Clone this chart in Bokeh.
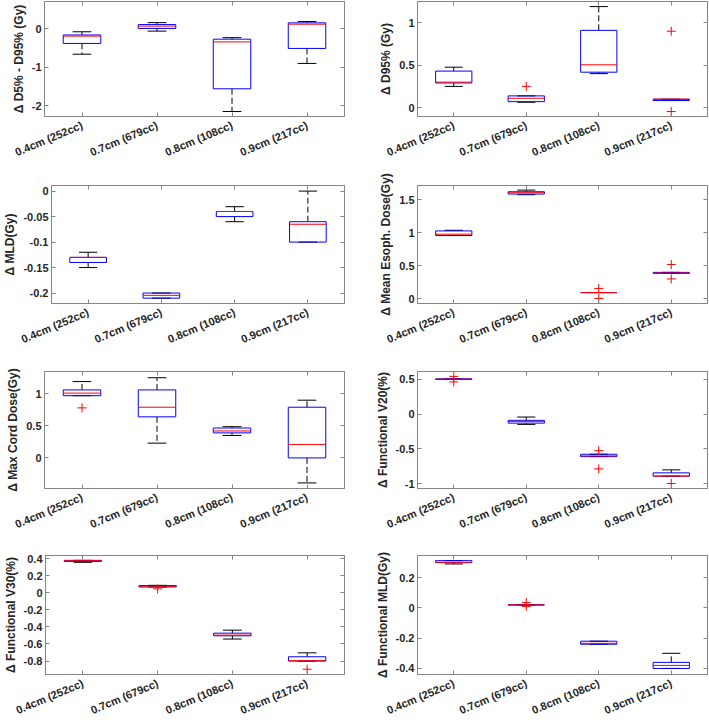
from bokeh.plotting import figure
from bokeh.layouts import column, row
from bokeh.models import Range1d, FixedTicker, LinearAxis, CustomJSTickFormatter, ColumnDataSource
from bokeh.embed import file_html
from bokeh.resources import INLINE

categories = ["0.4cm (252cc)", "0.7cm (679cc)", "0.8cm (108cc)", "0.9cm (217cc)"]

# box statistics per category: lower whisker, q1, median, q3, upper whisker, outliers
d5_d95 = dict(lo=[-0.66, -0.06, -2.15, -0.90], q1=[-0.38, 0.01, -1.56, -0.51],
              med=[-0.19, 0.07, -0.34, 0.12], q3=[-0.16, 0.11, -0.27, 0.155],
              hi=[-0.077, 0.16, -0.23, 0.19], out=[[], [], [], []])
d95 = dict(lo=[0.25, 0.063, 0.40, 0.083], q1=[0.29, 0.07, 0.417, 0.083],
           med=[0.30, 0.11, 0.504, 0.10], q3=[0.43, 0.138, 0.91, 0.098],
           hi=[0.476, 0.138, 1.19, 0.098], out=[[], [0.25], [], [0.90, -0.047]])
mld = dict(lo=[-0.15, -0.21, -0.06, -0.10], q1=[-0.14, -0.21, -0.05, -0.10],
           med=[-0.13, -0.2045, -0.04, -0.065], q3=[-0.13, -0.20, -0.04, -0.06],
           hi=[-0.12, -0.20, -0.0306, 0.0], out=[[], [], [], []])
mean_esoph = dict(lo=[0.96, 1.58, 0.093, 0.385], q1=[0.96, 1.59, 0.093, 0.385],
                  med=[0.98, 1.61, 0.093, 0.39], q3=[1.03, 1.625, 0.093, 0.40],
                  hi=[1.04, 1.65, 0.093, 0.40], out=[[], [], [0.156, 0.005], [0.52, 0.30]])
max_cord = dict(lo=[0.97, 0.23, 0.35, -0.39], q1=[0.97, 0.64, 0.39, 0.0],
                med=[1.01, 0.79, 0.42, 0.21], q3=[1.06, 1.06, 0.466, 0.79],
                hi=[1.19, 1.25, 0.487, 0.90], out=[[0.78], [], [], []])
func_v20 = dict(lo=[0.495, -0.148, -0.61, -0.89], q1=[0.495, -0.13, -0.61, -0.89],
                med=[0.50, -0.105, -0.60, -0.89], q3=[0.505, -0.09, -0.576, -0.843],
                hi=[0.505, -0.043, -0.576, -0.80], out=[[0.54, 0.46], [], [-0.524, -0.786], [-0.995]])
func_v30 = dict(lo=[0.358, 0.069, -0.542, -0.80], q1=[0.369, 0.069, -0.504, -0.80],
                med=[0.377, 0.077, -0.496, -0.796], q3=[0.381, 0.085, -0.473, -0.75],
                hi=[0.381, 0.088, -0.438, -0.704], out=[[], [0.046], [], [-0.896]])
func_mld = dict(lo=[0.29, 0.02, -0.24, -0.40], q1=[0.299, 0.02, -0.24, -0.40],
                med=[0.301, 0.02, -0.234, -0.38], q3=[0.312, 0.02, -0.22, -0.36],
                hi=[0.312, 0.02, -0.22, -0.30], out=[[], [0.035, 0.01], [], []])

panels = [
    (d5_d95, "\u0394 D5% - D95% (Gy)", (-2.28, 0.71), [-2, -1, 0]),
    (d95, "\u0394 D95% (Gy)", (-0.105, 1.25), [0, 0.5, 1]),
    (mld, "\u0394 MLD(Gy)", (-0.2205, 0.011), [-0.2, -0.15, -0.1, -0.05, 0]),
    (mean_esoph, "\u0394 Mean Esoph. Dose(Gy)", (-0.073, 1.72), [0, 0.5, 1, 1.5]),
    (max_cord, "\u0394 Max Cord Dose(Gy)", (-0.477, 1.347), [0, 0.5, 1]),
    (func_v20, "\u0394 Functional V20(%)", (-1.067, 0.61), [-1, -0.5, 0, 0.5]),
    (func_v30, "\u0394 Functional V30(%)", (-0.958, 0.438), [-0.8, -0.6, -0.4, -0.2, 0, 0.2, 0.4]),
    (func_mld, "\u0394 Functional MLD(Gy)", (-0.44, 0.346), [-0.4, -0.2, 0, 0.2]),
]

FONT = "Liberation Sans"
FRAME = "#858585"
TEXT = "#262626"

row_h = [170, 192, 186, 176]
top_border = [1, 15, 9, 7]
bottom_border = [54, 59, 60, 50]

def make_panel(stats, ylabel, ylim, yticks, col, r):
    left_col = col == 0
    w = 348 if left_col else 360
    p = figure(width=w, height=row_h[r], output_backend="svg", toolbar_location=None,
               x_range=Range1d(0.5, 4.5), y_range=Range1d(*ylim),
               min_border_left=44 if left_col else 69,
               min_border_right=4 if left_col else 1,
               min_border_top=top_border[r], min_border_bottom=bottom_border[r])
    p.grid.visible = False
    p.outline_line_color = FRAME
    p.background_fill_color = "white"
    p.border_fill_color = "white"

    xs = [i + 1 for i in range(len(categories))]
    hw, cw = 0.25, 0.125
    src = ColumnDataSource(dict(
        x=xs, l=[x - hw for x in xs], r=[x + hw for x in xs],
        cl=[x - cw for x in xs], cr=[x + cw for x in xs],
        lo=stats["lo"], q1=stats["q1"], med=stats["med"], q3=stats["q3"], hi=stats["hi"]))
    # whiskers
    p.segment(x0="x", y0="q3", x1="x", y1="hi", source=src, line_color="black", line_width=1, line_dash="6 3")
    p.segment(x0="x", y0="q1", x1="x", y1="lo", source=src, line_color="black", line_width=1, line_dash="6 3")
    # caps
    p.segment(x0="cl", y0="hi", x1="cr", y1="hi", source=src, line_color="black", line_width=1)
    p.segment(x0="cl", y0="lo", x1="cr", y1="lo", source=src, line_color="black", line_width=1)
    # boxes
    p.quad(left="l", right="r", bottom="q1", top="q3", source=src, fill_alpha=0,
           line_color="#0000ff", line_width=1)
    # median
    p.segment(x0="l", y0="med", x1="r", y1="med", source=src, line_color="#ff0000", line_width=1)
    # outliers
    ox, oy = [], []
    for x, outs in zip(xs, stats["out"]):
        for v in outs:
            ox.append(x)
            oy.append(v)
    if ox:
        p.scatter(ox, oy, marker="cross", size=9, line_color="#ff0000", line_width=1)

    xfmt = CustomJSTickFormatter(args=dict(cats=categories),
                                 code="return cats[Math.round(tick) - 1];")
    yfmt = CustomJSTickFormatter(code="return String(Number(tick.toPrecision(6)));")

    xa = p.below[0]
    xa.ticker = FixedTicker(ticks=xs)
    xa.formatter = xfmt
    xa.major_label_orientation = 0.4
    ya = p.left[0]
    ya.ticker = FixedTicker(ticks=yticks)
    ya.formatter = yfmt
    ya.axis_label = ylabel
    for ax in (xa, ya):
        ax.axis_line_color = FRAME
        ax.major_tick_line_color = FRAME
        ax.major_tick_in = 4
        ax.major_tick_out = 0
        ax.minor_tick_line_color = None
        ax.major_label_text_font = FONT
        ax.major_label_text_font_size = "11px"
        ax.major_label_text_font_style = "bold"
        ax.major_label_text_color = TEXT
        ax.major_label_standoff = 3
        ax.axis_label_text_font = FONT
        ax.axis_label_text_font_size = "12px"
        ax.axis_label_text_font_style = "bold"
        ax.axis_label_text_color = TEXT
        ax.axis_label_standoff = 3
    xa.major_label_standoff = 8

    blank = CustomJSTickFormatter(code="return '';")
    top = LinearAxis(ticker=FixedTicker(ticks=xs), formatter=blank,
                     major_label_text_font_size="1px",
                     major_label_standoff=0, major_tick_in=4, major_tick_out=0,
                     minor_tick_line_color=None, axis_line_color=FRAME,
                     major_tick_line_color=FRAME)
    right = LinearAxis(ticker=FixedTicker(ticks=yticks), formatter=blank,
                       major_label_text_font_size="1px",
                       major_label_standoff=0, major_tick_in=4, major_tick_out=0,
                       minor_tick_line_color=None, axis_line_color=FRAME,
                       major_tick_line_color=FRAME)
    p.add_layout(top, "above")
    p.add_layout(right, "right")
    return p

figs = []
for i, (stats, label, ylim, yticks) in enumerate(panels):
    figs.append(make_panel(stats, label, ylim, yticks, i % 2, i // 2))

layout = column(*[row(figs[2 * r], figs[2 * r + 1], spacing=0) for r in range(4)], spacing=0)

open("out.html", "w").write(file_html(layout, INLINE))
